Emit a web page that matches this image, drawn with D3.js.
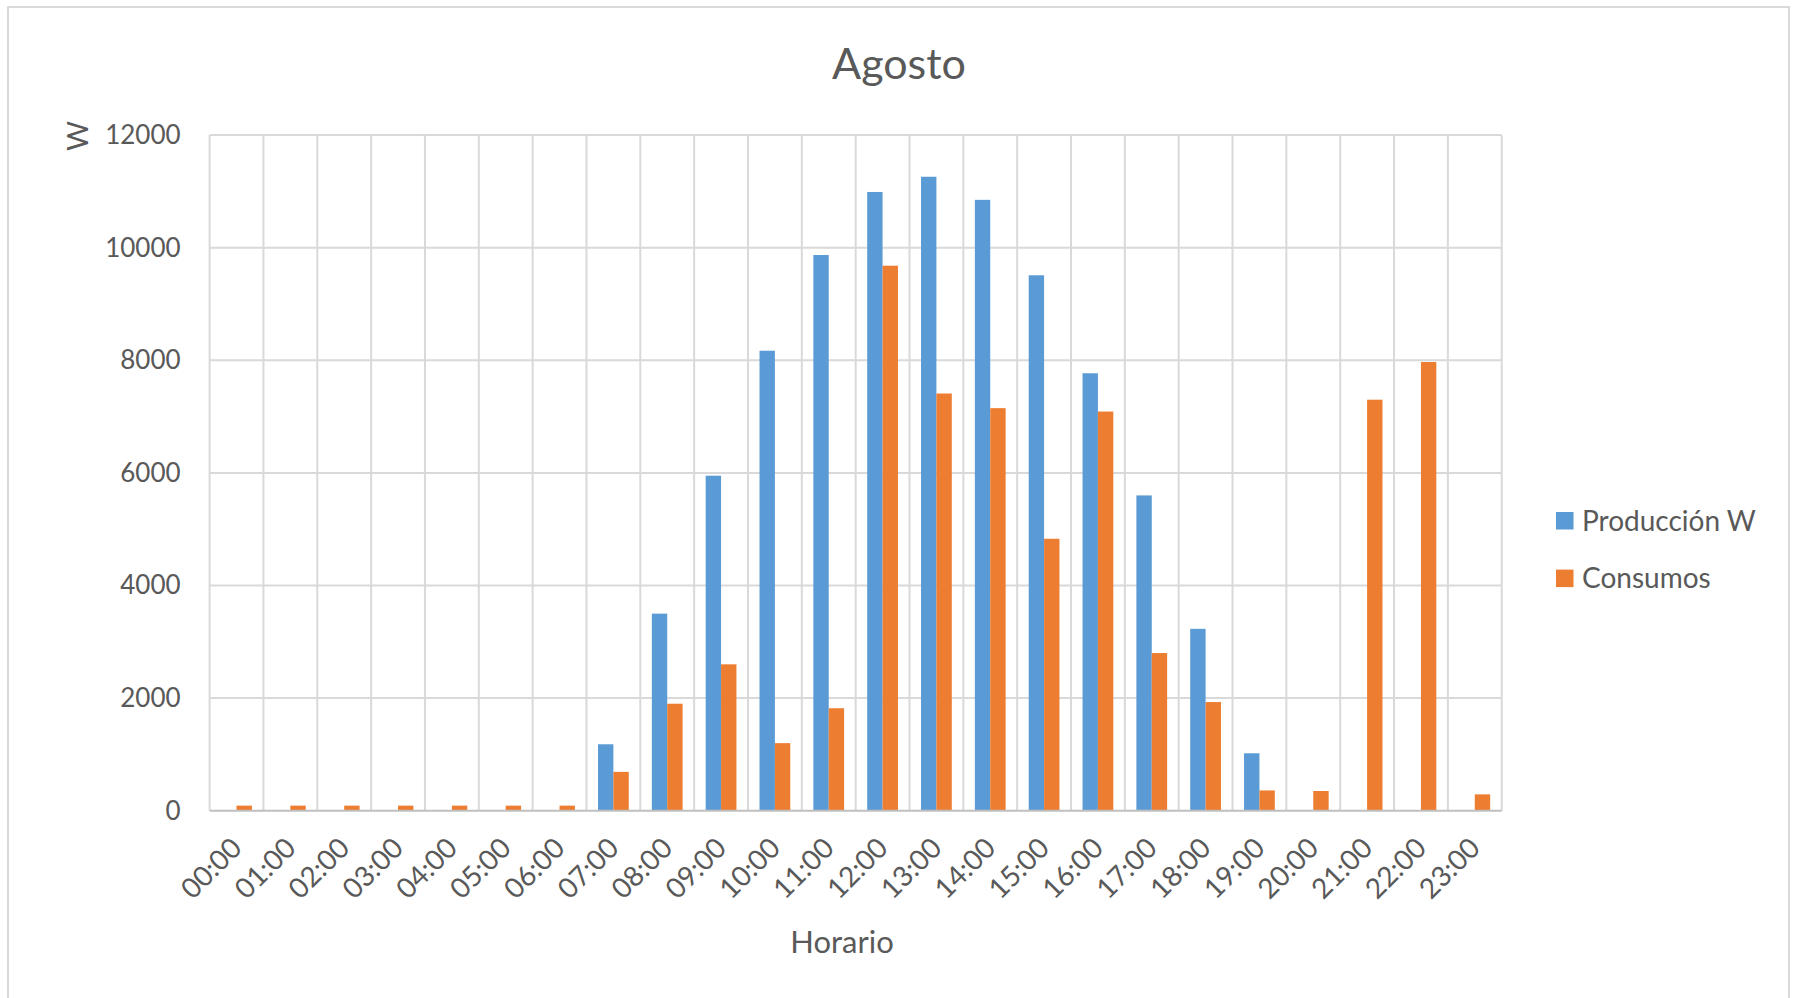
<!DOCTYPE html>
<html>
<head>
<meta charset="utf-8">
<script src="https://cdn.jsdelivr.net/npm/d3@7"></script>
<style>
  html, body { margin: 0; padding: 0; background: #ffffff; }
  svg { display: block; font-family: Lato, "Open Sans", sans-serif; }
</style>
</head>
<body>
<svg id="chart" width="1796" height="998"></svg>
<script>
// Hourly values for August
const hours = ["00:00","01:00","02:00","03:00","04:00","05:00","06:00","07:00","08:00","09:00","10:00","11:00",
               "12:00","13:00","14:00","15:00","16:00","17:00","18:00","19:00","20:00","21:00","22:00","23:00"];
const produccion = [0,0,0,0,0,0,0,1180,3500,5950,8170,9870,10990,11260,10850,9510,7770,5600,3230,1020,0,0,0,0];
const consumos = [90,90,90,90,90,90,90,690,1900,2600,1200,1820,9680,7410,7150,4830,7090,2800,1930,360,350,7300,7970,290];
const seriesNames = ["Producción W","Consumos"];
const yTicks = [0,2000,4000,6000,8000,10000,12000];
const titleText = "Agosto";
const xTitle = "Horario";
const yTitle = "W";

const colors = ["#5b9bd5","#ed7d31"];
const textColor = "#595959";
const gridColor = "#d9d9d9";

const svg = d3.select("#chart");
const plot = { left: 209.6, right: 1501.7, top: 135.1, bottom: 810.7 };

// chart frame
svg.append("rect")
  .attr("x", 8).attr("y", 7).attr("width", 1781).attr("height", 1000)
  .attr("fill", "#fff").attr("stroke", gridColor).attr("stroke-width", 2);

const x = d3.scaleBand().domain(hours).range([plot.left, plot.right]).padding(0);
const xs = d3.scaleBand().domain(seriesNames).range([0, x.bandwidth()])
  .paddingInner(0).paddingOuter(0.75);
const y = d3.scaleLinear().domain([0, 12000]).range([plot.bottom, plot.top]);

// horizontal gridlines
svg.append("g").selectAll("line").data(yTicks.filter(d => d > 0)).join("line")
  .attr("x1", plot.left).attr("x2", plot.right)
  .attr("y1", d => y(d)).attr("y2", d => y(d))
  .attr("stroke", gridColor).attr("stroke-width", 2);

// vertical gridlines at category boundaries
const bounds = hours.map(h => x(h)).concat([plot.right]);
svg.append("g").selectAll("line").data(bounds).join("line")
  .attr("x1", d => d).attr("x2", d => d)
  .attr("y1", plot.top).attr("y2", plot.bottom)
  .attr("stroke", gridColor).attr("stroke-width", 2);

// bars
const rows = hours.map((h, i) => ({ h, vals: [produccion[i], consumos[i]] }));
const groups = svg.append("g").selectAll("g").data(rows).join("g")
  .attr("transform", d => `translate(${x(d.h)},0)`);
groups.selectAll("rect")
  .data(d => d.vals.map((v, k) => ({ v, k })))
  .join("rect")
  .attr("x", d => xs(seriesNames[d.k]))
  .attr("width", xs.bandwidth())
  .attr("y", d => y(d.v))
  .attr("height", d => y(0) - y(d.v))
  .attr("fill", d => colors[d.k]);

// baseline
svg.append("line")
  .attr("x1", plot.left).attr("x2", plot.right)
  .attr("y1", y(0)).attr("y2", y(0))
  .attr("stroke", "#bfbfbf").attr("stroke-width", 2);

// y axis labels
const yAxis = svg.append("g")
  .attr("transform", `translate(${plot.left},0)`)
  .call(d3.axisLeft(y).tickValues(yTicks).tickSize(0).tickPadding(29).tickFormat(d3.format("d")));
yAxis.select(".domain").remove();
yAxis.selectAll("text")
  .attr("fill", textColor).attr("font-size", 26).attr("font-family", "Lato, sans-serif");

// x axis labels, rotated
const xAxis = svg.append("g")
  .attr("transform", `translate(0,${plot.bottom})`)
  .call(d3.axisBottom(x).tickSize(0).tickPadding(0));
xAxis.select(".domain").remove();
xAxis.selectAll("text")
  .attr("fill", textColor).attr("font-size", 28).attr("font-family", "Lato, sans-serif")
  .attr("text-anchor", "end")
  .attr("dy", null)
  .attr("dominant-baseline", "middle")
  .attr("transform", "translate(2,34) rotate(-45)")
  .attr("y", 0);

// title
svg.append("text")
  .attr("x", 899).attr("y", 79)
  .attr("text-anchor", "middle")
  .attr("fill", textColor).attr("font-size", 43)
  .text(titleText);

// axis titles
svg.append("text")
  .attr("x", 842).attr("y", 953)
  .attr("text-anchor", "middle")
  .attr("fill", textColor).attr("font-size", 31)
  .text(xTitle);

svg.append("text")
  .attr("transform", "translate(88,136) rotate(-90)")
  .attr("text-anchor", "middle")
  .attr("fill", textColor).attr("font-size", 29)
  .text(yTitle);

// legend
const legend = svg.append("g").selectAll("g").data(seriesNames).join("g")
  .attr("transform", (d, i) => `translate(1556,${512 + i * 57.6})`);
legend.append("rect")
  .attr("width", 17.5).attr("height", 17.5)
  .attr("fill", (d, i) => colors[i]);
legend.append("text")
  .attr("x", 26).attr("y", 18.5)
  .attr("fill", textColor).attr("font-size", 28)
  .text(d => d);
</script>
</body>
</html>
